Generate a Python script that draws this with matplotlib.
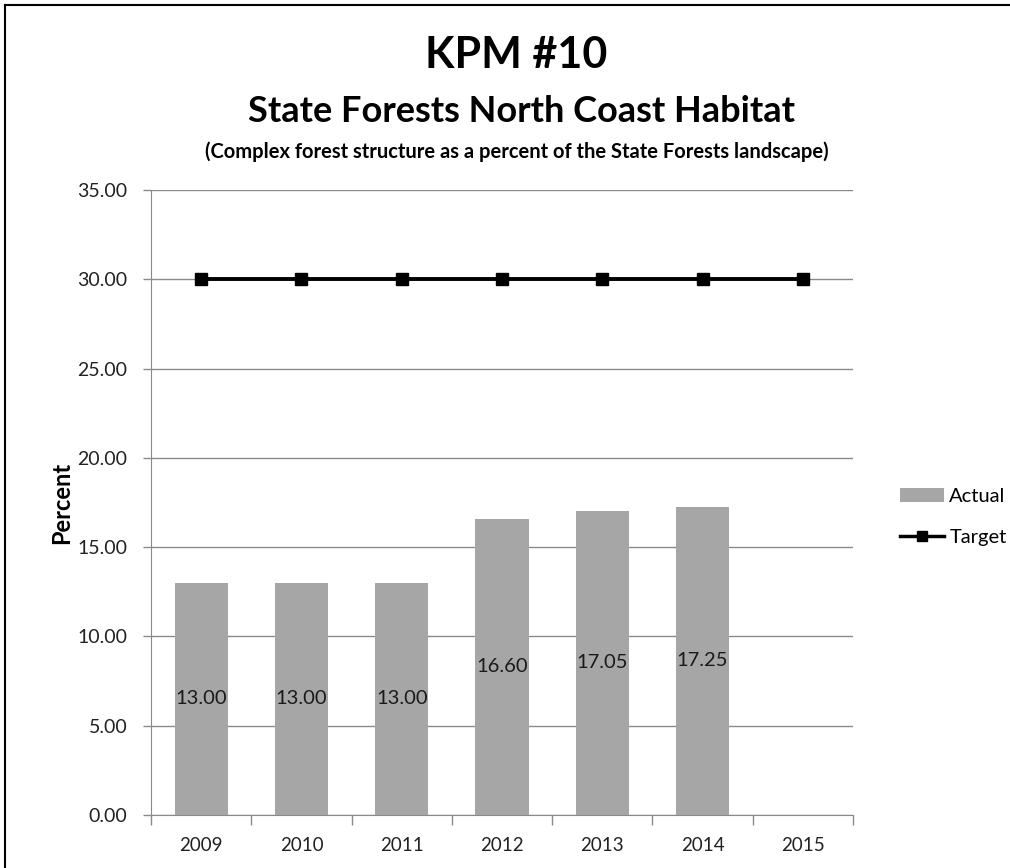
import matplotlib
matplotlib.use("Agg")
import matplotlib.pyplot as plt
from matplotlib.lines import Line2D
from matplotlib.patches import Patch
import numpy as np

plt.rcParams['font.family'] = ['Lato', 'DejaVu Sans']

years = ["2009", "2010", "2011", "2012", "2013", "2014", "2015"]
actual = [13.00, 13.00, 13.00, 16.60, 17.05, 17.25, None]
target = [30.0, 30.0, 30.0, 30.0, 30.0, 30.0, 30.0]
y_ticks = [0, 5, 10, 15, 20, 25, 30, 35]

W, H = 1010, 868
fig = plt.figure(figsize=(W / 100, H / 100), dpi=100)
fig.patch.set_facecolor("white")

ax = fig.add_axes([151 / W, 1 - 815 / H, (853 - 151) / W, (815 - 190) / H])

x = np.arange(len(years))
bar_x = [i for i, v in zip(x, actual) if v is not None]
bar_v = [v for v in actual if v is not None]

ax.set_ylim(0, 35)
ax.set_xlim(-0.5, len(years) - 0.5)
ax.set_yticks(y_ticks)
ax.set_yticklabels([f"{t:.2f}" for t in y_ticks], fontsize=14, color="#222222")
ax.yaxis.grid(True, color="#8a8a8a", linewidth=1.0)
ax.set_axisbelow(True)

bars = ax.bar(bar_x, bar_v, width=0.53, color="#a6a6a6", zorder=2)
for bx, bv in zip(bar_x, bar_v):
    ax.text(bx, bv / 2, f"{bv:.2f}", ha="center", va="center",
            fontsize=14.5, color="#1a1a1a", zorder=3)

ax.plot(x, target, color="black", linewidth=2.8, marker="s",
        markersize=8, zorder=4)

# category ticks sit on the boundaries between years
ax.set_xticks(np.arange(-0.5, len(years) + 0.5, 1.0), minor=False)
ax.set_xticklabels([])
ax.set_xticks(x, minor=True)
ax.set_xticklabels(years, minor=True, fontsize=13.5, color="#222222")
ax.tick_params(axis="x", which="major", length=7, color="#8a8a8a", width=1)
ax.tick_params(axis="x", which="minor", length=0, pad=16)
ax.tick_params(axis="y", length=6, color="#8a8a8a", width=1, pad=11)

for side in ["top", "right"]:
    ax.spines[side].set_visible(False)
ax.spines["left"].set_color("#8a8a8a")
ax.spines["bottom"].set_color("#8a8a8a")

ax.set_ylabel("Percent", fontsize=17, fontweight="bold", labelpad=3)

fig.text(516 / W, 1 - 55 / H, "KPM #10", ha="center", va="center",
         fontsize=31, fontweight="bold")
fig.text(522 / W, 1 - 112 / H, "State Forests North Coast Habitat",
         ha="center", va="center", fontsize=26, fontweight="bold")
fig.text(517 / W, 1 - 152 / H,
         "(Complex forest structure as a percent of the State Forests landscape)",
         ha="center", va="center", fontsize=14.5, fontweight="bold")

handles = [Patch(facecolor="#a6a6a6", edgecolor="none"),
           Line2D([0], [0], color="black", linewidth=2.5, marker="s", markersize=7)]
fig.legend(handles, ["Actual", "Target"], loc="center left",
           bbox_to_anchor=(892 / W, 1 - 517 / H), frameon=False, fontsize=14.5,
           handlelength=2.2, handletextpad=0.25, labelspacing=1.15,
           borderaxespad=0)

# outer frame lines along the top and left edges
fig.add_artist(Line2D([5 / W, 1.0], [1 - 5 / H, 1 - 5 / H], color="black",
                      linewidth=1.5, transform=fig.transFigure))
fig.add_artist(Line2D([5 / W, 5 / W], [0.0, 1 - 5 / H], color="black",
                      linewidth=1.5, transform=fig.transFigure))

fig.savefig("out.png", dpi=100)
